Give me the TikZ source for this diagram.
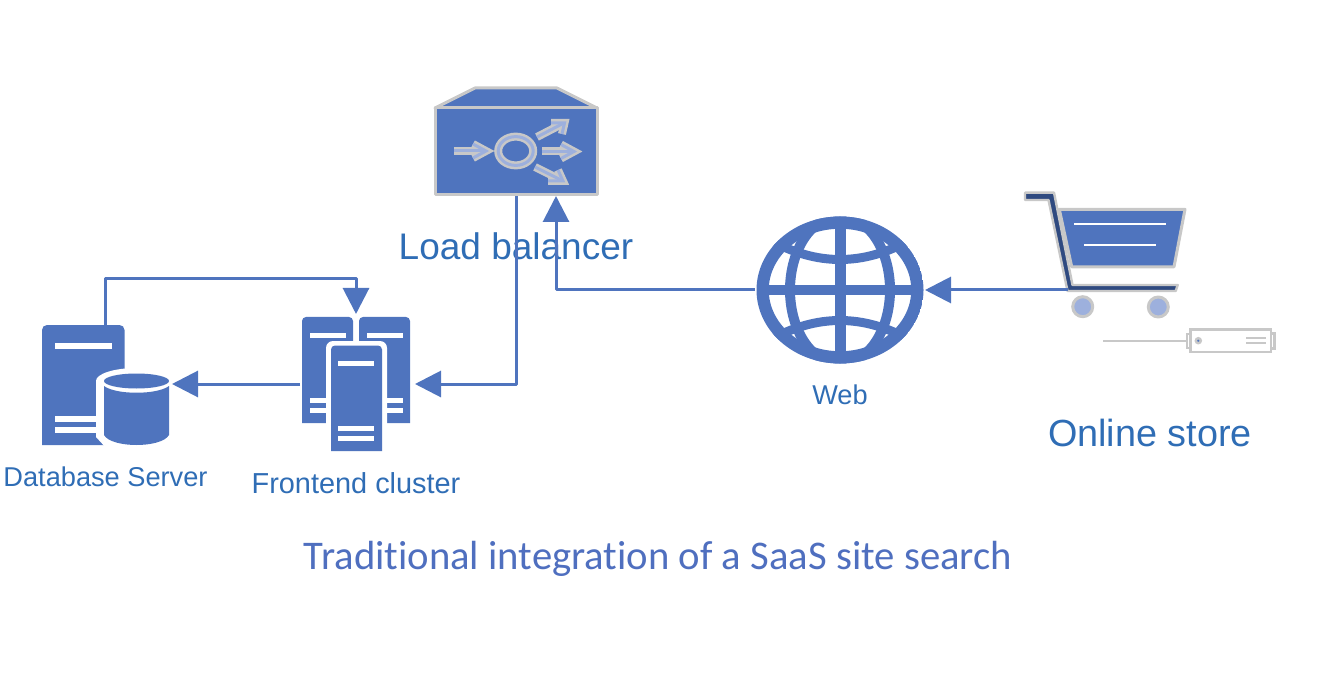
\documentclass[tikz,border=0pt]{standalone}
\usepackage{fontspec}
\setmainfont{Liberation Sans}
\newfontfamily\titlefont[Ligatures={NoCommon,NoDiscretionary,NoRequired}]{Carlito}
\usetikzlibrary{arrows.meta,positioning}
\definecolor{iconblue}{HTML}{4F74BE}
\definecolor{iconlight}{HTML}{9DB0DD}
\definecolor{iconnavy}{HTML}{2F4A80}
\definecolor{icongray}{HTML}{C8C8C8}
\definecolor{labelblue}{HTML}{2F6DB5}
\definecolor{titleblue}{HTML}{4F6FBF}
\tikzset{
  iconbox/.style={inner sep=0pt, outer sep=0pt},
  iconbar/.style={draw=white, line width=5pt},
  flowarrow/.style={-{Triangle[length=26pt,width=26pt]}, line width=3pt, draw=iconblue, line join=round},
  smalllabel/.style={text=labelblue, inner sep=0pt, font=\fontsize{27.2}{32}\selectfont},
  biglabel/.style={text=labelblue, inner sep=0pt, font=\fontsize{37}{42}\selectfont},
  graypart/.style={draw=icongray, line width=3pt, line join=round},
  devicepart/.style={draw=icongray, line width=2.4pt},
  lbglow/.style={draw=icongray, line width=8pt},
  lbcore/.style={draw=iconlight, line width=3pt}
}
\begin{document}
\begin{tikzpicture}[x=1pt,y=-1pt]
\useasboundingbox (0,0) rectangle (1324,700);

\node[iconbox, minimum width=162pt, minimum height=108pt] (lb) at (516,142) {};
\node[iconbox, minimum width=170pt, minimum height=148pt] (web) at (840,290) {};
\node[iconbox, minimum width=118pt, minimum height=160pt] (cart) at (1127,290) {};
\node[iconbox, minimum width=118pt, minimum height=140pt] (frontend) at (356,384) {};
\node[iconbox, minimum width=133pt, minimum height=118pt] (dbserver) at (105.5,384) {};

% load balancer
\filldraw[fill=iconblue, graypart] (435,108) -- (475,88) -- (557,88) -- (597,108) -- cycle;
\filldraw[fill=iconblue, graypart] (435,108) rectangle (597,195);
\foreach \pen in {lbglow,lbcore} {
  \draw[\pen] (515.7,151) ellipse [x radius=17.5, y radius=14.4];
  \draw[\pen] (454,151) -- (484,151);
  \draw[\pen] (473,144) -- (486,151) -- (473,158);
  \draw[\pen] (542,151.5) -- (572,151.5);
  \draw[\pen] (561,144.5) -- (574,151.5) -- (561,158.5);
  \draw[\pen] (537,137) -- (563,123.5);
  \draw[\pen] (551,123) -- (564.5,123) -- (562,134);
  \draw[\pen] (535,167) -- (561,180);
  \draw[\pen] (548,181) -- (563,181) -- (558,170);
}

% globe
\begin{scope}
  \clip (840,290) ellipse [x radius=83.5, y radius=73.5];
  \draw[iconblue, line width=12.5pt] (840,290) ellipse [x radius=77.5, y radius=67.5];
  \draw[iconblue, line width=10pt] (840,290) ellipse [x radius=50, y radius=74];
  \draw[iconblue, line width=11pt] (840,216) -- (840,364);
  \draw[iconblue, line width=10pt] (757,290) -- (923,290);
  \draw[iconblue, line width=9pt] (770,240) .. controls (816.7,266) and (863.3,266) .. (910,240);
  \draw[iconblue, line width=9pt] (770,340) .. controls (816.7,314) and (863.3,314) .. (910,340);
\end{scope}

% cart
\filldraw[fill=iconblue, graypart] (1059.3,209.3) -- (1185,209.3) -- (1174,266.8) -- (1071.7,266.8) -- cycle;
\draw[white, line width=2.2pt] (1074,224) -- (1165.7,224);
\draw[white, line width=2.2pt] (1084.3,245.3) -- (1155.7,245.3);
\filldraw[fill=iconnavy, draw=icongray, line width=2.4pt, line join=round] (1025,192.7) -- (1054,192.7) -- (1072.5,285) -- (1177.7,285) -- (1175.7,291) -- (1067.5,291) -- (1048.5,200) -- (1025,200) -- cycle;
\filldraw[fill=iconlight, graypart] (1082.7,306.7) circle [radius=10];
\filldraw[fill=iconlight, graypart] (1158.3,307) circle [radius=10];

% small device under the cart
\draw[devicepart] (1103.3,340.7) -- (1186.7,340.7);
\draw[devicepart] (1190.3,329.3) rectangle (1270.7,352);
\draw[devicepart] (1186.7,334) rectangle (1190.3,348);
\draw[devicepart] (1270.7,333.3) rectangle (1274.3,348.3);
\filldraw[fill=iconblue, devicepart] (1198.3,340.7) circle [radius=2.5];
\draw[devicepart] (1246,337.7) -- (1266,337.7);
\draw[devicepart] (1246,343) -- (1266,343);

% database server
\fill[iconblue] (42,445) [rounded corners=5pt] -- (42,325) -- (124.5,325) [sharp corners] -- (124.5,445) -- cycle;
\draw[iconbar, line width=5.8pt] (55,346) -- (112,346);
\draw[iconbar, line width=5.8pt] (55,419) -- (100,419);
\draw[iconbar, line width=5.8pt] (55,430) -- (100,430);
\fill[white] (96,381) -- (177,381) -- (177,450) -- (108,450) -- (96,437) -- cycle;
\fill[white] (136.5,381) ellipse [x radius=40.5, y radius=13];
\fill[iconblue] (136.5,381) ellipse [x radius=32.5, y radius=7.5];
\fill[iconblue] (104,386) .. controls (116,395) and (157,395) .. (169,386) -- (169,435) .. controls (165,442) and (150,445) .. (136.5,445) .. controls (123,445) and (108,442) .. (104,435) -- cycle;

% frontend cluster
\fill[iconblue] (302,423) [rounded corners=4pt] -- (302,317) -- (353,317) [sharp corners] -- (353,423) -- cycle;
\fill[iconblue] (359,423) [rounded corners=4pt] -- (359,317) -- (410,317) [sharp corners] -- (410,423) -- cycle;
\foreach \bary in {335.5,400,410} {
  \draw[iconbar] (310,\bary) -- (346,\bary);
  \draw[iconbar] (367,\bary) -- (403,\bary);
}
\fill[white, rounded corners=7pt] (326,456) -- (326,341) -- (387,341) -- (387,456) -- cycle;
\fill[white] (326,440) rectangle (387,456);
\fill[iconblue] (331,451) [rounded corners=4pt] -- (331,345.5) -- (382,345.5) [sharp corners] -- (382,451) -- cycle;
\foreach \bary in {363.5,428.5,438.5}
  \draw[iconbar] (338,\bary) -- (374,\bary);

\node[biglabel, below=36pt of lb] (lblabel) {Load balancer};
\node[smalllabel, below=21pt of web] (weblabel) {Web};
\node[smalllabel, below=24pt of dbserver] (dblabel) {Database Server};
\node[smalllabel, font=\fontsize{28.9}{32}\selectfont, below=18pt of frontend] (frontendlabel) {Frontend cluster};
\node[biglabel, font=\fontsize{37.8}{42}\selectfont] (storelabel) at (1150,433) {Online store};
\node[text=titleblue, inner sep=0pt, font=\titlefont\fontsize{40.7}{46}\selectfont] (caption) at (658,559) {Traditional integration of a SaaS site search};

\draw[flowarrow] (lb.south) |- (frontend.east);
\draw[flowarrow] (web.west) -| ([xshift=40pt]lb.south);
\draw[flowarrow] (cart.west) -- (web.east);
\draw[flowarrow, shorten <=-3pt] (frontend.west) -- (dbserver.east);
\coordinate (overhead) at (105.5,279);
\draw[flowarrow] (dbserver.north) -- (overhead) -| (frontend.north);
\end{tikzpicture}
\end{document}
